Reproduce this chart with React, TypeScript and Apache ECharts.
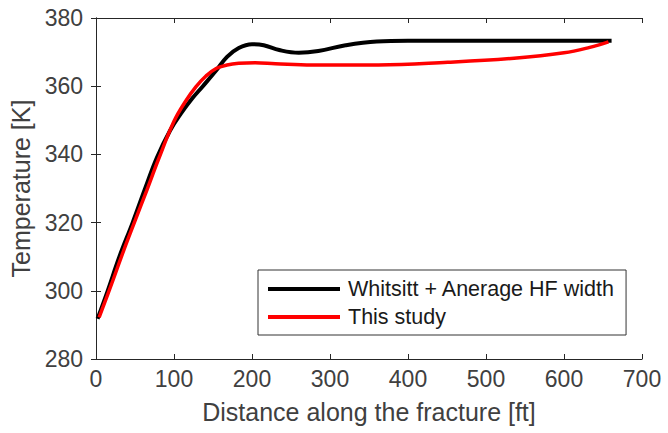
import React, { useEffect, useRef } from "react";
import * as echarts from "echarts";

const xTicks = [0, 100, 200, 300, 400, 500, 600, 700];
const yTicks = [280, 300, 320, 340, 360, 380];

const whitsittX = [2, 15, 30, 47, 63, 78, 95, 109, 123, 137, 154, 168, 183, 200, 215, 235, 260, 285, 320, 360, 400, 500, 600, 661];
const whitsittY = [291.8, 300, 310, 320, 330, 339, 347, 352, 356.3, 360, 364.6, 368.6, 371.2, 372.3, 372.0, 370.6, 369.8, 370.3, 372, 373.1, 373.3, 373.3, 373.3, 373.3];

const studyX = [4, 20, 35, 50, 65, 80, 100, 114, 128, 141, 154, 168, 183, 204, 230, 277, 362, 451, 536, 600, 633, 657];
const studyY = [292.2, 302, 311.5, 320.5, 329.4, 338.5, 349.7, 355.3, 359.8, 363, 365.2, 366.2, 366.7, 366.9, 366.6, 366.2, 366.2, 367, 368.2, 369.8, 371.4, 373];

const seriesNames = ["Whitsitt + Anerage HF width", "This study"];

const axisColor = "#262626";
const textColor = "#404040";
const font = "Liberation Sans, Arial, sans-serif";

export default function App() {
  const ref = useRef<HTMLDivElement>(null);
  useEffect(() => {
    const chart = echarts.init(ref.current!, null, { renderer: "svg" });
    const zip = (xs: number[], ys: number[]) => xs.map((x, i) => [x, ys[i]]);
    const baseX = {
      type: "value" as const,
      min: 0,
      max: 700,
      interval: 100,
      axisLine: { show: true, lineStyle: { color: axisColor, width: 1 } },
      axisTick: { show: true, inside: true, length: 5, lineStyle: { color: axisColor } },
      splitLine: { show: false },
    };
    const baseY = {
      type: "value" as const,
      min: 280,
      max: 380,
      interval: 20,
      axisLine: { show: true, lineStyle: { color: axisColor, width: 1 } },
      axisTick: { show: true, inside: true, length: 5, lineStyle: { color: axisColor } },
      splitLine: { show: false },
    };
    chart.setOption({
      animation: false,
      backgroundColor: "#ffffff",
      grid: { left: 96, right: 26, top: 18, bottom: 74, containLabel: false },
      xAxis: [
        {
          ...baseX,
          position: "bottom",
          name: "Distance along the fracture [ft]",
          nameLocation: "middle",
          nameGap: 40,
          nameTextStyle: { fontSize: 25, color: textColor, fontFamily: font },
          axisLabel: {
            fontSize: 23,
            color: textColor,
            fontFamily: font,
            margin: 8,
            formatter: (v: number) => (xTicks.includes(v) ? String(v) : ""),
          },
        },
        { ...baseX, position: "top", axisLabel: { show: false } },
      ],
      yAxis: [
        {
          ...baseY,
          position: "left",
          name: "Temperature [K]",
          nameLocation: "middle",
          nameGap: 60,
          nameTextStyle: { fontSize: 25, color: textColor, fontFamily: font },
          axisLabel: {
            fontSize: 23,
            color: textColor,
            fontFamily: font,
            margin: 13,
            formatter: (v: number) => (yTicks.includes(v) ? String(v) : ""),
          },
        },
        { ...baseY, position: "right", axisLabel: { show: false } },
      ],
      legend: {
        left: 258,
        top: 270,
        orient: "vertical",
        data: seriesNames,
        icon: "rect",
        itemWidth: 72,
        itemHeight: 4,
        itemGap: 6,
        padding: [8, 11, 7, 10],
        borderColor: "#333333",
        borderWidth: 1,
        backgroundColor: "#ffffff",
        textStyle: { fontSize: 21.5, lineHeight: 22, color: "#1a1a1a", fontFamily: font, padding: [0, 0, 0, 3] },
      },
      series: [
        {
          name: seriesNames[0],
          type: "line",
          data: zip(whitsittX, whitsittY),
          smooth: 0.4,
          showSymbol: false,
          lineStyle: { color: "#000000", width: 4 },
          itemStyle: { color: "#000000" },
          z: 2,
        },
        {
          name: seriesNames[1],
          type: "line",
          data: zip(studyX, studyY),
          smooth: 0.4,
          showSymbol: false,
          lineStyle: { color: "#ff0000", width: 3.5 },
          itemStyle: { color: "#ff0000" },
          z: 3,
        },
      ],
    });
    return () => chart.dispose();
  }, []);
  return <div ref={ref} style={{ width: 668, height: 433, position: "absolute", left: 0, top: 0 }} />;
}
